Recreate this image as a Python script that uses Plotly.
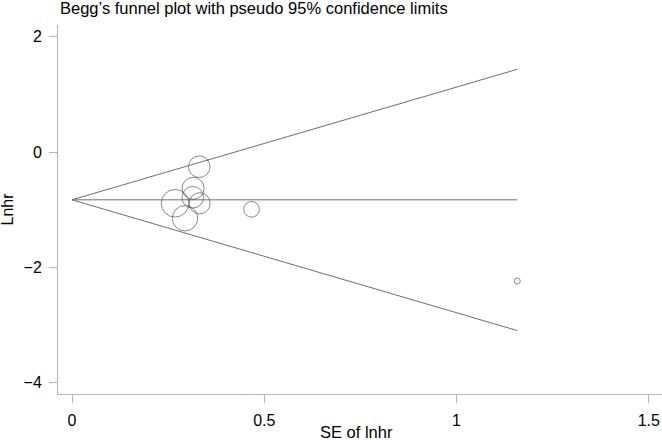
import plotly.graph_objects as go

# Study points (SE of lnhr, Lnhr) and marker diameters
se_values = [0.331, 0.315, 0.314, 0.332, 0.268, 0.294, 0.467, 1.158]
lnhr_values = [-0.255, -0.63, -0.786, -0.89, -0.89, -1.15, -0.995, -2.24]
marker_diam = [21.6, 22, 21.6, 21, 27.6, 25.4, 15.6, 6]

# Pseudo 95% confidence limits (end points)
limit_se = [0, 1.158]
limit_upper = [-0.83, 1.436]
limit_center = [-0.83, -0.83]
limit_lower = [-0.83, -3.10]

x_ticks = [0, 0.5, 1, 1.5]
x_ticklabels = ["0", "0.5", "1", "1.5"]
y_ticks = [2, 0, -2, -4]
y_ticklabels = ["2", "0", "\u22122", "\u22124"]

FONT = "Liberation Sans, Arial, sans-serif"
LINE_COL = "#6e6e6e"
AXIS_COL = "#b4b4b4"

fig = go.Figure()
for yy in (limit_upper, limit_center, limit_lower):
    fig.add_trace(go.Scatter(x=limit_se, y=yy, mode="lines",
                             line=dict(color=LINE_COL, width=1),
                             hoverinfo="skip", showlegend=False))
fig.add_trace(go.Scatter(x=se_values, y=lnhr_values, mode="markers",
                         marker=dict(symbol="circle", size=marker_diam,
                                     color="rgba(0,0,0,0)",
                                     line=dict(color="#555555", width=1)),
                         showlegend=False))

axis_common = dict(showgrid=False, zeroline=False, showline=True, linecolor=AXIS_COL,
                   linewidth=1, ticks="outside", ticklen=8, tickcolor=AXIS_COL,
                   ticklabelstandoff=4,
                   tickfont=dict(size=16, family=FONT, color="black"))

fig.update_layout(
    width=662, height=440,
    margin=dict(l=58, r=0, t=25, b=46),
    paper_bgcolor="white", plot_bgcolor="white",
    font=dict(family=FONT, size=16, color="black"),
    showlegend=False,
    xaxis=dict(range=[-0.0364, 1.5344], tickvals=x_ticks, ticktext=x_ticklabels,
               ticklabeloverflow="allow", **axis_common),
    yaxis=dict(range=[-4.201, 2.205], tickvals=y_ticks, ticktext=y_ticklabels,
               **axis_common),
    annotations=[
        dict(text="Begg\u2019s funnel plot with pseudo 95% confidence limits",
             xref="paper", yref="paper", x=0.0, y=1 + 17 / 369,
             xanchor="left", yanchor="middle", showarrow=False,
             font=dict(size=16.5, family=FONT, color="black")),
        dict(text="SE of lnhr", xref="paper", yref="paper", x=(356 - 58) / 604,
             y=-38 / 369, xanchor="center", yanchor="middle", showarrow=False,
             font=dict(size=16.5, family=FONT, color="black")),
        dict(text="Lnhr", xref="paper", yref="paper", x=-51 / 604, y=0.5,
             xanchor="center", yanchor="middle", textangle=-90, showarrow=False,
             font=dict(size=16, family=FONT, color="black")),
    ],
)

fig.write_html("out.html", config={"displayModeBar": False})

# remove the browser's default page margin so the figure sits at (0, 0)
with open("out.html", "r", encoding="utf-8") as f:
    html = f.read()
html = html.replace("<head>", "<head><style>html,body{margin:0;padding:0;overflow:hidden;}</style>", 1)
with open("out.html", "w", encoding="utf-8") as f:
    f.write(html)
